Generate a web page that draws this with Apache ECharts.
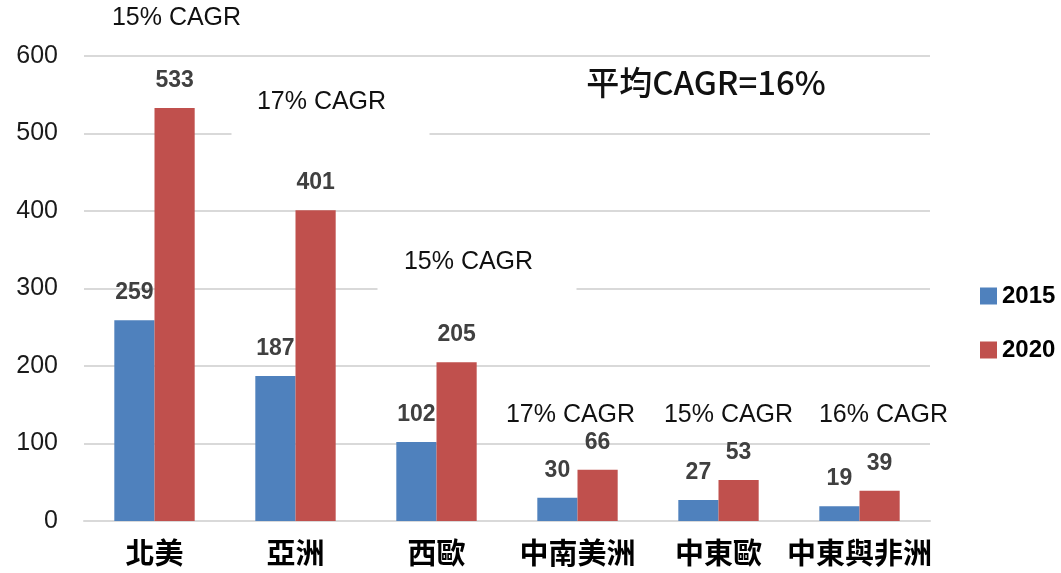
<!DOCTYPE html>
<html>
<head>
<meta charset="utf-8">
<script src="https://cdn.jsdelivr.net/npm/echarts@6/dist/echarts.min.js"></script>
<style>
  html, body { margin: 0; padding: 0; background: #fff; }
  #chart { width: 1061px; height: 573px; }
</style>
</head>
<body>
<div id="chart"></div>
<script>
// 區域
const regions = ['北美', '亞洲', '西歐', '中南美洲', '中東歐', '中東與非洲'];
const years = ['2015', '2020'];
const values2015 = [259, 187, 102, 30, 27, 19];
const values2020 = [533, 401, 205, 66, 53, 39];
// CAGR 註記（文字 / 所在類別 / 高度值）
const cagrTexts = ['15% CAGR', '17% CAGR', '15% CAGR', '17% CAGR', '15% CAGR', '16% CAGR'];
const cagrCats = [0, 1, 2, 3, 4, 5];
const cagrLevels = [649, 540, 334, 137, 137, 137];
const avgText = '平均CAGR=16%';

// 版面: 註記水平偏移 與 白底遮罩範圍
const cagrDx = [22, 26, 32, -7, 10, 24];
const cagrBox = [
  [-66, -13, 66, 13],
  [-90, -20, 108, 36],
  [-91, -20, 108, 36],
  [-66, -13, 66, 13],
  [-66, -13, 66, 13],
  [-66, -13, 66, 13]
];

const chart = echarts.init(document.getElementById('chart'));
const valueLabel = {
  show: true,
  position: 'top',
  distance: 16,
  fontFamily: 'Liberation Sans',
  fontSize: 23,
  fontWeight: 'bold',
  color: '#404040'
};

chart.setOption({
  animation: false,
  grid: { left: 84, right: 131, top: 56, bottom: 52 },
  legend: {
    data: years,
    orient: 'vertical',
    left: 975,
    top: 279,
    itemWidth: 17,
    itemHeight: 17,
    itemGap: 30,
    icon: 'rect',
    textStyle: { fontFamily: 'Liberation Sans', fontSize: 24, fontWeight: 'bold', color: '#000' }
  },
  xAxis: {
    type: 'category',
    data: regions,
    axisLine: { lineStyle: { color: '#d9d9d9', width: 2 } },
    axisTick: { show: false },
    axisLabel: {
      margin: 17,
      fontFamily: 'Noto Sans CJK TC',
      fontSize: 29,
      fontWeight: 'bold',
      color: '#000',
      interval: 0
    }
  },
  yAxis: {
    type: 'value',
    min: 0,
    max: 600,
    interval: 100,
    axisLine: { show: false },
    axisTick: { show: false },
    splitLine: { lineStyle: { color: '#d9d9d9', width: 2 } },
    axisLabel: { margin: 26, fontFamily: 'Liberation Sans', fontSize: 25, color: '#1a1a1a' }
  },
  series: [
    {
      name: '2015',
      type: 'bar',
      data: values2015,
      barGap: 0,
      barCategoryGap: '43%',
      itemStyle: { color: '#4f81bd' },
      label: valueLabel
    },
    {
      name: '2020',
      type: 'bar',
      data: values2020,
      itemStyle: { color: '#c0504d' },
      label: valueLabel
    }
  ]
});

// 註記
const graphics = [];
cagrTexts.forEach((t, i) => {
  const p = chart.convertToPixel({ xAxisIndex: 0, yAxisIndex: 0 }, [cagrCats[i], cagrLevels[i]]);
  const cx = p[0] + cagrDx[i];
  const cy = p[1];
  const b = cagrBox[i];
  graphics.push({
    type: 'rect',
    z: 100,
    shape: { x: cx + b[0], y: cy + b[1], width: b[2] - b[0], height: b[3] - b[1] },
    style: { fill: '#fff' }
  });
  graphics.push({
    type: 'text',
    z: 101,
    x: cx,
    y: cy,
    style: {
      text: t,
      align: 'center',
      verticalAlign: 'middle',
      fontFamily: 'Liberation Sans',
      fontSize: 25,
      fill: '#111'
    }
  });
});
graphics.push({
  type: 'text',
  z: 101,
  x: 706,
  y: 82,
  style: {
    text: avgText,
    align: 'center',
    verticalAlign: 'middle',
    fontFamily: 'Noto Sans CJK TC',
    fontSize: 33,
    fontWeight: 500,
    fill: '#111'
  }
});
chart.setOption({ graphic: graphics });
</script>
</body>
</html>
